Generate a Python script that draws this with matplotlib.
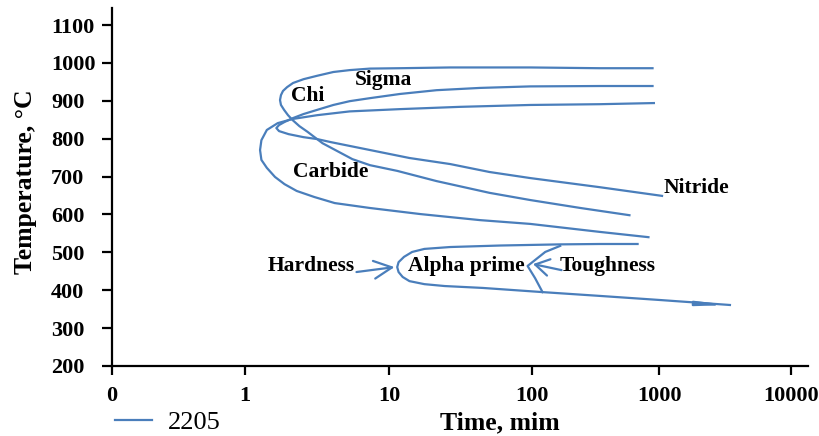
import matplotlib
matplotlib.use('Agg')
import matplotlib.pyplot as plt

plt.rcParams['font.family'] = 'Liberation Serif'
plt.rcParams['font.weight'] = 'bold'

blue = '#4a7ebb'

# x axis is in decades of time: position 0 -> "0", ~1 -> "1", ~2 -> "10" ...
tick_pos = [0, 0.98, 2.04, 3.09, 4.03, 5.0]
tick_lab = ['0', '1', '10', '100', '1000', '10000']
temp_ticks = [200, 300, 400, 500, 600, 700, 800, 900, 1000, 1100]

# Sigma: upper branch right to left, nose, then lower branch
sigma_x = [3.98, 3.59, 3.08, 2.49, 2.12, 1.90, 1.75, 1.63, 1.51, 1.41,
           1.333, 1.289, 1.259, 1.244, 1.237, 1.244, 1.267, 1.296, 1.33, 1.38,
           1.44, 1.55, 1.66, 1.77, 1.90, 2.10, 2.39, 2.78, 3.08, 3.45, 3.81]
sigma_t = [986, 986, 988, 988, 986, 985, 981, 976, 966, 957,
           947, 936, 926, 915, 902, 889, 876, 862, 849, 833,
           818, 788, 767, 746, 730, 715, 688, 657, 638, 617, 598]

# Chi, lower branch ends at Nitride
chi_x = [3.98, 3.59, 3.08, 2.71, 2.39, 2.12, 1.90, 1.75, 1.63, 1.51,
         1.41, 1.33, 1.27, 1.23, 1.21, 1.23, 1.30, 1.41, 1.51, 1.61,
         1.90, 2.19, 2.49, 2.78, 3.08, 3.59, 4.05]
chi_t = [939, 939, 938, 934, 928, 918, 907, 899, 889, 876,
         865, 854, 844, 836, 828, 820, 812, 804, 799, 791,
         770, 749, 733, 712, 696, 672, 649]

# Carbide
carb_x = [3.99, 3.59, 3.08, 2.56, 2.12, 1.75, 1.51, 1.33, 1.22, 1.14,
          1.10, 1.09, 1.10, 1.14, 1.20, 1.27, 1.36, 1.49, 1.64, 1.90,
          2.27, 2.71, 3.08, 3.59, 3.95]
carb_t = [894, 891, 889, 884, 878, 872, 862, 852, 841, 823,
          796, 770, 744, 723, 699, 680, 662, 646, 630, 617,
          601, 585, 575, 554, 540]

# Alpha prime
alpha_x = [3.87, 3.59, 3.30, 2.86, 2.49, 2.30, 2.21, 2.15, 2.11, 2.10,
           2.11, 2.14, 2.19, 2.30, 2.45, 2.73, 3.17, 3.59, 4.04, 4.55]
alpha_t = [522, 522, 521, 518, 514, 509, 501, 488, 474, 461,
           448, 435, 424, 416, 411, 406, 395, 385, 374, 361]

# toughness chevron
chev_x = [3.30, 3.19, 3.06, 3.115, 3.17]
chev_t = [517, 501, 464, 432, 395]

fig = plt.figure(figsize=(8.2, 4.36), dpi=100)
ax = fig.add_axes([0.1366, 0.1606, 0.8488, 0.8211])

ax.plot(sigma_x, sigma_t, color=blue, lw=1.6, label='2205')
ax.plot(chi_x, chi_t, color=blue, lw=1.6)
ax.plot(carb_x, carb_t, color=blue, lw=1.6)
ax.plot(alpha_x, alpha_t, color=blue, lw=1.6)
ax.plot(chev_x, chev_t, color=blue, lw=1.6)

# arrows
ax.annotate('', xy=(2.08, 461), xytext=(1.80, 448),
            arrowprops=dict(arrowstyle='->,head_length=0.65,head_width=0.32',
                            color=blue, lw=1.6, mutation_scale=20,
                            shrinkA=0, shrinkB=0))
ax.annotate('', xy=(3.10, 469), xytext=(3.31, 453),
            arrowprops=dict(arrowstyle='->,head_length=0.5,head_width=0.3',
                            color=blue, lw=1.6, mutation_scale=20,
                            shrinkA=0, shrinkB=0))
ax.annotate('', xy=(4.55, 361), xytext=(4.35, 364),
            arrowprops=dict(arrowstyle='-|>,head_length=1.6,head_width=0.12',
                            color=blue, lw=1.6, mutation_scale=10,
                            shrinkA=0, shrinkB=0))

# labels
fs = 15.5
ax.text(2.00, 955, 'Sigma', fontsize=fs, ha='center', va='center')
ax.text(1.44, 912, 'Chi', fontsize=fs, ha='center', va='center')
ax.text(1.61, 712, 'Carbide', fontsize=fs, ha='center', va='center')
ax.text(4.30, 670, 'Nitride', fontsize=fs, ha='center', va='center')
ax.text(1.47, 464, 'Hardness', fontsize=fs, ha='center', va='center')
ax.text(2.61, 465, 'Alpha prime', fontsize=fs, ha='center', va='center')
ax.text(3.65, 464, 'Toughness', fontsize=fs, ha='center', va='center')

ax.set_xlim(0, 5.125)
ax.set_ylim(200, 1145)
ax.set_xticks(tick_pos)
ax.set_xticklabels(tick_lab)
ax.set_yticks(temp_ticks)
ax.set_yticklabels([str(t) for t in temp_ticks])
for lab in ax.get_yticklabels():
    lab.set_ha('left')

for s in ['top', 'right']:
    ax.spines[s].set_visible(False)
for s in ['left', 'bottom']:
    ax.spines[s].set_linewidth(1.6)
ax.tick_params(axis='y', length=7, width=1.6, pad=37, labelsize=16)
ax.tick_params(axis='x', length=6.5, width=1.6, pad=8, labelsize=16)

ax.set_xlabel('Time, mim', fontsize=18.5, fontweight='bold', va='center')
ax.set_ylabel('Temperature, \u00b0C', fontsize=18.5, fontweight='bold', va='center')
ax.xaxis.set_label_coords(0.557, -0.159)
ax.yaxis.set_label_coords(-0.124, 0.515)

fig.legend(loc='center left', bbox_to_anchor=(0.140, 0.032), frameon=False,
           borderpad=0, borderaxespad=0, handlelength=1.4, handletextpad=0.6,
           prop={'weight': 'normal', 'size': 19})

fig.savefig('out.png', dpi=100)
